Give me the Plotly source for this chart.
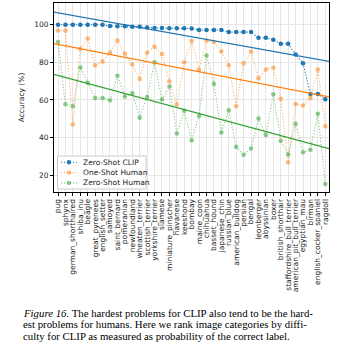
import numpy as np
import plotly.graph_objects as go

categories = ["pug", "sphynx", "german_shorthaired", "shiba_inu", "beagle", "great_pyrenees",
              "english_setter", "samoyed", "saint_bernard", "pomeranian", "newfoundland",
              "wheaten_terrier", "scottish_terrier", "yorkshire_terrier", "siamese",
              "miniature_pinscher", "havanese", "keeshond", "bombay", "maine_coon", "chihuahua",
              "basset_hound", "japanese_chin", "russian_blue", "american_bulldog", "persian",
              "bengal", "leonberger", "abyssinian", "boxer", "british_shorthair",
              "staffordshire_bull_terrier", "american_pit_bull_terrier", "egyptian_mau",
              "birman", "english_cocker_spaniel", "ragdoll"]

zero_shot_clip = [100, 100, 100, 100, 100, 100, 100, 99.3, 99.2, 99.2, 99.0, 98.9, 98.5, 98.3,
                  98.3, 98.2, 98.1, 98.1, 98.0, 97.2, 97.2, 97.2, 97.2, 96.1, 96.1, 96.1, 96.1,
                  93.1, 93.1, 92.0, 89.9, 89.9, 84.2, 79.5, 63.2, 63.2, 60.4]

one_shot_human = [97.0, 97.0, 46.9, 87.3, 92.7, 78.4, 80.5, 85.1, 91.7, 84.6, 78.9, 71.1, 85.1,
                  88.3, 84.4, 69.9, 57.6, 80.0, 91.4, 76.1, 91.7, 90.8, 85.8, 78.4, 56.7, 79.5,
                  85.8, 71.5, 76.2, 77.2, 60.7, 26.8, 57.9, 57.0, 61.1, 76.2, 46.0]

zero_shot_human = [90.8, 57.7, 56.7, 77.3, 69.2, 61.1, 61.1, 59.8, 72.9, 61.8, 63.6, 50.5, 61.6,
                   80.0, 60.2, 67.1, 42.2, 54.2, 38.6, 51.4, 83.7, 68.6, 42.7, 54.5, 34.9, 30.8,
                   34.2, 50.1, 41.3, 63.0, 38.3, 31.0, 47.3, 32.1, 33.5, 52.6, 15.3]

y_ticks = [20, 40, 60, 80, 100]

series_names = ["Zero-Shot CLIP", "One-Shot Human", "Zero-Shot Human"]
series_values = [zero_shot_clip, one_shot_human, zero_shot_human]
colors = ["#1f77b4", "#ff7f0e", "#2ca02c"]
opacities = [1.0, 0.55, 0.55]

DOT = "1.2px,1.8px"

# plot-area geometry (pixels) used for paper-coordinate placement of legend/caption
L, R, T, B = 54, 22, 3, 169
W, H = 351, 361
PW, PH = W - L - R, H - T - B


def px(xpix):
    return (xpix - L) / PW


def py(ypix):
    return (H - B - ypix) / PH


x = np.arange(len(categories))
fig = go.Figure()

for name, vals, color, op in zip(series_names, series_values, colors, opacities):
    fig.add_trace(go.Scatter(
        x=x, y=vals, name=name, mode="lines+markers",
        line=dict(color=color, width=1.1, dash=DOT),
        marker=dict(color=color, size=4.5),
        opacity=op, showlegend=False,
    ))

for name, vals, color in zip(series_names, series_values, colors):
    k, b = np.polyfit(x, vals, 1)
    xx = np.array([-0.6, len(categories) - 0.4])
    fig.add_trace(go.Scatter(
        x=xx, y=k * xx + b, mode="lines", showlegend=False,
        line=dict(color=color, width=1.3), hoverinfo="skip",
    ))

# compact matplotlib-style legend
shapes = [dict(type="rect", xref="paper", yref="paper",
               x0=px(57.5), x1=px(146), y0=py(189), y1=py(156),
               fillcolor="rgba(255,255,255,0.85)", line=dict(color="#cccccc", width=1))]
annotations = []
for i, (name, color, op) in enumerate(zip(series_names, colors, opacities)):
    yy = py(162.3 + 10.3 * i)
    shapes.append(dict(type="line", xref="paper", yref="paper",
                       x0=px(61), x1=px(77), y0=yy, y1=yy, opacity=op,
                       line=dict(color=color, width=1.1, dash=DOT)))
    shapes.append(dict(type="circle", xref="paper", yref="paper",
                       xsizemode="pixel", ysizemode="pixel",
                       xanchor=px(69), yanchor=yy, x0=-2.2, x1=2.2, y0=-2.2, y1=2.2,
                       fillcolor=color, opacity=op, line=dict(width=0)))
    annotations.append(dict(text=name, xref="paper", yref="paper", x=px(80.5), y=yy,
                            xanchor="left", yanchor="middle", showarrow=False,
                            font=dict(family="DejaVu Sans", size=7.5, color="#222222")))

caption = [
    "<i>Figure 16.</i> The hardest problems for CLIP also tend to be the hard-",
    "est problems for humans. Here we rank image categories by diffi-",
    "culty for CLIP as measured as probability of the correct label.",
]
for i, line in enumerate(caption):
    annotations.append(dict(
        text=line, xref="paper", yref="paper",
        x=px(21), y=py(312.5 + 11.6 * i),
        xanchor="left", yanchor="middle", showarrow=False,
        font=dict(family="Liberation Serif", size=10.8, color="#000000"),
    ))

fig.update_layout(
    width=W, height=H,
    margin=dict(l=L, r=R, t=T, b=B),
    plot_bgcolor="white", paper_bgcolor="white",
    font=dict(family="DejaVu Sans", size=7.5, color="#222222"),
    showlegend=False,
    shapes=shapes, annotations=annotations,
    xaxis=dict(
        range=[-0.54, 36.5], tickmode="array", tickvals=list(x), ticktext=categories,
        tickangle=-90, showgrid=True, gridcolor="#e6e6e6", gridwidth=1,
        showline=True, linecolor="black", linewidth=1, mirror=True,
        ticks="outside", ticklen=3, tickcolor="black", zeroline=False,
        tickfont=dict(size=7.5), automargin=False,
    ),
    yaxis=dict(
        range=[11, 111.6], tickvals=y_ticks, showgrid=True, gridcolor="#e6e6e6",
        showline=True, linecolor="black", linewidth=1, mirror=True,
        ticks="outside", ticklen=3, tickcolor="black", zeroline=False,
        title=dict(text="Accuracy (%)", font=dict(size=7.5), standoff=8),
        tickfont=dict(size=7.5), automargin=False,
    ),
)

fig.write_html("out.html")
